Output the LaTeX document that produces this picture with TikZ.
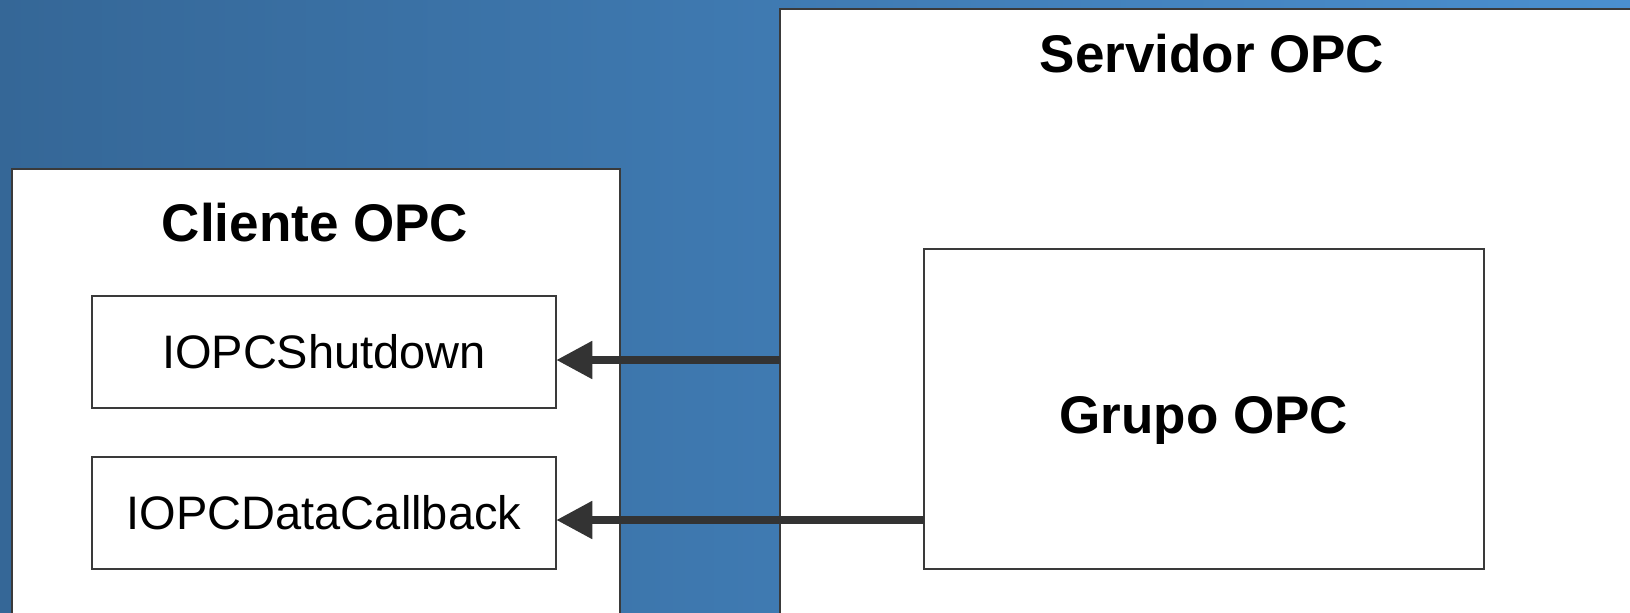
\documentclass[tikz,border=0pt]{standalone}
\usepackage{fontspec}
\setmainfont{Liberation Sans}
\usetikzlibrary{arrows.meta}
\definecolor{bgL}{HTML}{356797}
\definecolor{bgR}{HTML}{4A8FCF}
\definecolor{edge}{HTML}{3A3A3A}
\definecolor{arrc}{HTML}{333333}
\tikzset{
  box/.style={draw=edge, line width=1pt, fill=white, inner sep=0pt, outer sep=0pt},
  title/.style={font=\fontsize{26.5}{30}\selectfont\bfseries, text=black, inner sep=0pt},
  iface/.style={box, minimum width=232.25pt, minimum height=56pt, font=\fontsize{23.5}{27}\selectfont},
  arr/.style={draw=arrc, line width=4pt, -{Triangle[length=18pt,width=18pt]}}
}
\begin{document}
\begin{tikzpicture}[x=0.5pt,y=-0.5pt]
\useasboundingbox (0,0) rectangle (1630,612);
\begin{scope}
\clip (0,0) rectangle (1630,612);
\shade[left color=bgL, right color=bgR] (0,0) rectangle (1630,612);
\node[box, anchor=north west, minimum width=304.25pt, minimum height=240pt] (cli) at (11.5,168.5) {};
\node[box, anchor=north west, minimum width=440pt, minimum height=320pt] (srv) at (780,8.5) {};
\end{scope}
\node[title] (clit) at (315,223) {Cliente OPC};
\node[title] (srvt) at (1212,54) {Servidor OPC};
\node[iface] (shut) at (324,352) {IOPCShutdown};
\node[iface] (data) at (324,512.5) {IOPCDataCallback};
\node[box, minimum width=280pt, minimum height=160pt] (grp) at (1204,408.5) {};
\node[title] (grpt) at (1204,420.5) {Grupo OPC};
\draw[arr] (srv.west |- 0,360) -- (shut.east |- 0,360);
\draw[arr] (grp.west |- 0,520) -- (data.east |- 0,520);
\end{tikzpicture}
\end{document}
